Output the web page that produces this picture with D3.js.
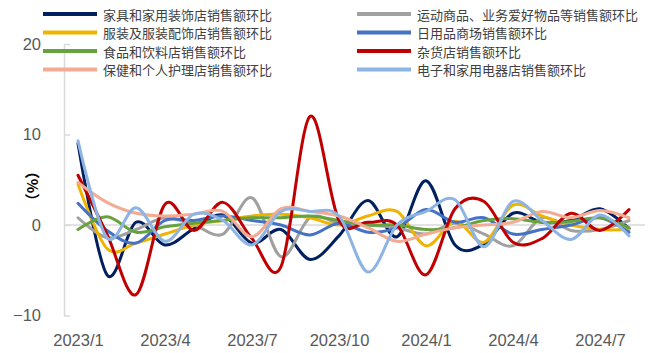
<!DOCTYPE html>
<html>
<head>
<meta charset="utf-8">
<script src="https://cdn.jsdelivr.net/npm/d3@7"></script>
<style>
  html, body { margin: 0; padding: 0; background: #fff; }
  svg { display: block; }
</style>
</head>
<body>
<svg id="chart" width="650" height="353"></svg>
<script>
// Months, 2023/1 .. 2024/8
const months = ["2023/1","2023/2","2023/3","2023/4","2023/5","2023/6","2023/7","2023/8","2023/9","2023/10",
                "2023/11","2023/12","2024/1","2024/2","2024/3","2024/4","2024/5","2024/6","2024/7","2024/8"];
const xTickLabels = ["2023/1","2023/4","2023/7","2023/10","2024/1","2024/4","2024/7"];
const yTicks = [-10, 0, 10, 20];

// Month-on-month change of retail sales by store type (%)
const furniture   = [9.0, -5.5, 0.3, -2.2, -0.4, 1.1, -2.0, -0.5, -3.8, -1.2, 2.7, -1.3, 4.9, -2.2, -2.1, 1.3, 0.3, 0.5, 1.8, -0.4];
const sports      = [0.8, -1.4, -0.5, 0.8, 0.0, -1.0, 3.0, -3.5, 0.8, 0.2, 0.0, -0.3, -1.0, 0.2, -1.0, -2.3, 0.8, -0.6, -0.5, 0.5];
const apparel     = [4.5, -2.6, -2.0, -1.0, 0.0, 0.5, 1.0, 1.2, 0.8, 0.0, 1.0, 1.5, -2.3, 0.4, -1.9, 2.2, 1.0, 0.0, -0.5, -0.5];
const generalMdse = [2.4, -0.6, -2.0, 0.5, 0.5, 1.0, 0.5, 0.0, -1.1, 0.2, -0.8, -0.3, 1.7, 0.3, 0.8, -1.0, -0.5, 0.0, 0.8, -0.8];
const food        = [-0.5, 0.9, -0.8, -0.2, 0.2, 0.5, 0.8, 0.8, 1.0, 0.5, 0.0, 0.0, -0.5, -0.3, 0.5, 0.7, 0.3, 0.4, 0.8, -0.3];
const misc        = [5.5, -1.0, -7.7, 2.3, -0.6, 2.5, -1.5, -4.6, 12.0, 0.5, 0.3, 0.0, -5.5, 1.8, 2.6, -1.9, -1.5, 1.3, -0.6, 1.7];
const health      = [4.7, 2.5, 1.3, 1.0, 1.2, 1.5, -1.3, 1.8, 1.5, 1.0, -0.3, -1.8, -1.0, -0.3, 0.0, 0.3, 1.5, 0.8, 1.6, 0.8];
const electronics = [9.3, -1.4, 1.9, -1.8, 1.2, 0.5, -2.2, 1.5, 1.5, 1.0, -5.2, 0.0, 1.5, 2.8, -2.4, 2.6, 0.5, -1.6, 1.1, -1.2];

const seriesNames = ["家具和家用装饰店销售额环比", "运动商品、业务爱好物品等销售额环比", "服装及服装配饰店销售额环比",
                     "日用品商场销售额环比", "食品和饮料店销售额环比", "杂货店销售额环比",
                     "保健和个人护理店销售额环比", "电子和家用电器店销售额环比"];
const seriesValues = [furniture, sports, apparel, generalMdse, food, misc, health, electronics];
const seriesColors = ["#002060", "#a0a0a0", "#f0b400", "#4472c4", "#66a33f", "#c00000", "#f4ab93", "#8db4e2"];

const svg = d3.select("#chart");

const x = d3.scalePoint().domain(months).range([78, 629]);
const y = d3.scaleLinear().domain([-10, 20]).range([315.5, 44]);

// zero line
svg.append("line")
  .attr("x1", 64).attr("x2", 645)
  .attr("y1", y(0)).attr("y2", y(0))
  .attr("stroke", "#d9d9d9").attr("stroke-width", 1.5);

// value axis
const yAxis = svg.append("g")
  .attr("transform", "translate(64,0)")
  .call(d3.axisLeft(y).tickValues(yTicks).tickSizeInner(-6).tickSizeOuter(0).tickPadding(23).tickFormat(d3.format("d")));
yAxis.select(".domain").attr("stroke", "#d9d9d9").attr("stroke-width", 1.5);
yAxis.selectAll(".tick line").attr("stroke", "#d9d9d9").attr("stroke-width", 1.5);
yAxis.selectAll(".tick text")
  .attr("fill", "#595959")
  .style("font-family", "'Liberation Sans', Arial, sans-serif")
  .style("font-size", "16.5px");

// category axis labels
const xAxis = svg.append("g")
  .attr("transform", "translate(0,330)")
  .call(d3.axisBottom(x).tickValues(xTickLabels).tickSize(0).tickPadding(4));
xAxis.select(".domain").remove();
xAxis.selectAll(".tick text")
  .attr("fill", "#595959")
  .style("font-family", "'Liberation Sans', Arial, sans-serif")
  .style("font-size", "16.5px");

// unit label
svg.append("text")
  .attr("transform", `translate(31,${y(4.3)}) rotate(-90)`)
  .attr("text-anchor", "middle")
  .attr("dominant-baseline", "central")
  .attr("fill", "#000")
  .style("font-family", "'Noto Sans CJK SC', sans-serif")
  .style("font-size", "15px")
  .style("font-weight", "bold")
  .text("（%）");

// series lines
const line = d3.line()
  .x((d, i) => x(months[i]))
  .y(d => y(d))
  .curve(d3.curveCardinal.tension(0));

svg.append("g").selectAll("path")
  .data(seriesValues)
  .join("path")
  .attr("d", d => line(d))
  .attr("fill", "none")
  .attr("stroke", (d, i) => seriesColors[i])
  .attr("stroke-width", 3)
  .attr("stroke-linejoin", "round")
  .attr("stroke-linecap", "round");

// legend: two columns, series ordered row by row
const legend = svg.append("g");
const legendItems = legend.selectAll("g")
  .data(seriesNames)
  .join("g")
  .attr("transform", (d, i) => `translate(${i % 2 === 0 ? 43 : 357},${14 + Math.floor(i / 2) * 18.5})`);
legendItems.append("line")
  .attr("x1", 0).attr("x2", 54)
  .attr("y1", 0).attr("y2", 0)
  .attr("stroke", (d, i) => seriesColors[i])
  .attr("stroke-width", 4);
legendItems.append("text")
  .attr("x", 60)
  .attr("y", 0)
  .attr("dominant-baseline", "central")
  .attr("fill", "#404040")
  .style("font-family", "'Noto Sans CJK SC', sans-serif")
  .style("font-size", "13px")
  .text(d => d);
</script>
</body>
</html>
